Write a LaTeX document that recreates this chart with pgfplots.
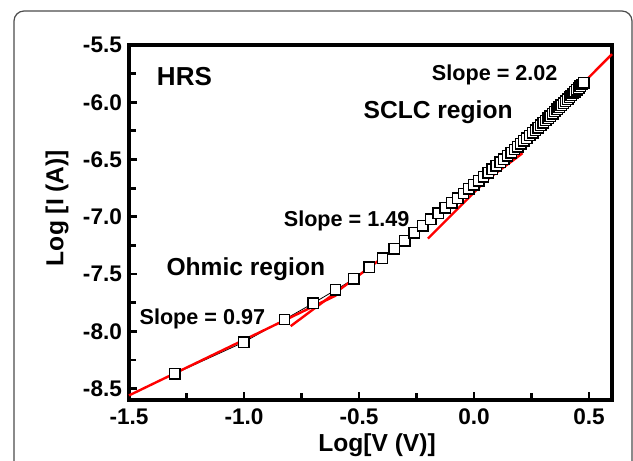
\documentclass[border=0pt]{standalone}
\usepackage{pgfplots}
\pgfplotsset{compat=1.18}
\usepackage{fontspec}
\setmainfont{Liberation Sans}
\begin{document}
\begin{tikzpicture}
\useasboundingbox (-64.5pt,-30.5pt) rectangle (252pt,200pt);
\begin{scope}
\clip (-64.5pt,-30.5pt) rectangle (252pt,200pt);
\draw[line width=0.6pt, black!70, rounded corners=5pt] (-57.5pt,-45pt) rectangle (251.5pt,194.5pt);
\end{scope}
\begin{axis}[
  scale only axis,
  width=241.5pt, height=177.5pt,
  xmin=-1.5, xmax=0.6, ymin=-8.6, ymax=-5.5,
  xtick={-1.5,-1.0,-0.5,0.0,0.5},
  ytick={-8.5,-8.0,-7.5,-7.0,-6.5,-6.0,-5.5},
  minor x tick num=1, minor y tick num=1,
  xtick pos=bottom, ytick pos=left,
  tick align=inside,
  major tick length=4pt, minor tick length=3.5pt,
  every tick/.style={black, line width=1.4pt},
  axis line style={line width=1.8pt},
  /pgf/number format/assume math mode=true,
  /pgf/number format/.cd, fixed, fixed zerofill, precision=1,
  /pgfplots/.cd,
  ticklabel style={font=\fontsize{11.3}{13}\selectfont\bfseries},
  xticklabel style={yshift=-1pt},
  clip=false,
]
\addplot[black, line width=0.4pt, mark=square*, mark size=2.6pt,
  mark options={fill=white, draw=black, line width=0.7pt}] coordinates {
(-1.301,-8.370) (-1.000,-8.094) (-0.824,-7.897) (-0.699,-7.755) (-0.602,-7.639)
(-0.523,-7.543) (-0.456,-7.440) (-0.398,-7.360) (-0.347,-7.280) (-0.301,-7.210)
(-0.260,-7.140) (-0.222,-7.080) (-0.187,-7.020) (-0.155,-6.970) (-0.125,-6.923)
(-0.097,-6.879) (-0.071,-6.837) (-0.046,-6.796) (-0.022,-6.757) (0.000,-6.720)
(0.021,-6.685) (0.041,-6.651) (0.061,-6.617) (0.079,-6.585) (0.097,-6.554)
(0.114,-6.524) (0.130,-6.496) (0.146,-6.467) (0.161,-6.440) (0.176,-6.413)
(0.190,-6.388) (0.204,-6.362) (0.217,-6.338) (0.230,-6.314) (0.243,-6.290)
(0.255,-6.267) (0.267,-6.245) (0.279,-6.222) (0.290,-6.201) (0.301,-6.180)
(0.312,-6.159) (0.322,-6.140) (0.332,-6.120) (0.342,-6.101) (0.352,-6.081)
(0.362,-6.062) (0.371,-6.044) (0.380,-6.026) (0.389,-6.008) (0.398,-5.991)
(0.407,-5.973) (0.415,-5.957) (0.423,-5.941) (0.431,-5.924) (0.439,-5.908)
(0.447,-5.892) (0.455,-5.876) (0.462,-5.861) (0.470,-5.845) (0.477,-5.831)
};
\addplot[red, line width=1.2pt] coordinates {(-1.5,-8.56) (-0.6,-7.687)};
\addplot[red, line width=1.2pt] coordinates {(-0.797,-7.955) (0.211,-6.445)};
\addplot[red, line width=1.2pt] coordinates {(-0.2,-7.19) (0.6,-5.58)};
\node[font=\fontsize{13}{15}\selectfont\bfseries] at (axis cs:-1.259,-5.778) {HRS};
\node[font=\fontsize{10.8}{13}\selectfont\bfseries] at (axis cs:0.090,-5.761) {Slope = 2.02};
\node[font=\fontsize{12.3}{14}\selectfont\bfseries] at (axis cs:-0.156,-6.091) {SCLC region};
\node[font=\fontsize{10.8}{13}\selectfont\bfseries] at (axis cs:-0.554,-7.039) {Slope = 1.49};
\node[font=\fontsize{12.3}{14}\selectfont\bfseries] at (axis cs:-0.992,-7.457) {Ohmic region};
\node[font=\fontsize{10.8}{13}\selectfont\bfseries] at (axis cs:-1.181,-7.891) {Slope = 0.97};
\end{axis}
\node[font=\fontsize{12.3}{14}\selectfont\bfseries] at (124pt,-22.5pt) {Log[V (V)]};
\node[font=\fontsize{12.3}{14}\selectfont\bfseries, rotate=90] at (-36pt,96pt) {Log [I (A)]};
\end{tikzpicture}
\end{document}
